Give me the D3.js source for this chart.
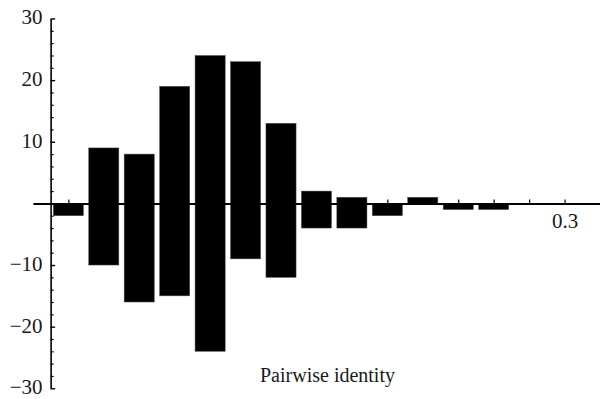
<!DOCTYPE html>
<html>
<head>
<meta charset="utf-8">
<script src="https://cdn.jsdelivr.net/npm/d3@7"></script>
<style>
  html, body { margin: 0; padding: 0; background: #fff; }
  svg { display: block; }
  text { font-family: "Liberation Serif", "Times New Roman", serif; fill: #1a1a1a; }
</style>
</head>
<body>
<svg id="chart" width="600" height="399"></svg>
<script>
// Bin centres (pairwise identity) and the counts above / below the axis
const identity = [0.02, 0.04, 0.06, 0.08, 0.10, 0.12, 0.14, 0.16, 0.18, 0.20, 0.22, 0.24, 0.26];
const upper = [0, 9, 8, 19, 24, 23, 13, 2, 1, 0, 1, 0, 0];
const lower = [-2, -10, -16, -15, -24, -9, -12, -4, -4, -2, 0, -1, -1];
const xTicks = [0.02, 0.04, 0.06, 0.08, 0.10, 0.12, 0.14, 0.16, 0.18, 0.20, 0.22, 0.24, 0.26, 0.28, 0.30];
const xLabelled = [0.3];
const yMajor = [-30, -20, -10, 10, 20, 30];

const svg = d3.select("#chart");

const x = d3.scaleLinear().domain([0, 0.32]).range([32.9, 600]);
const y = d3.scaleLinear().domain([-30, 30]).range([388.3, 18.5]);
const barW = 0.017;
const yAxisAt = 0.01;

// bars: one rectangle above and one below zero for each bin
const bars = svg.append("g");
identity.forEach((v, i) => {
  [upper[i], lower[i]].forEach(val => {
    if (val === 0) return;
    bars.append("rect")
      .attr("x", x(v - barW / 2))
      .attr("width", x(barW) - x(0))
      .attr("y", y(Math.max(val, 0)))
      .attr("height", Math.abs(y(val) - y(0)))
      .attr("fill", "#000")
      .attr("stroke", "#555")
      .attr("stroke-width", 0.5);
  });
});

// horizontal axis through zero, ticks pointing up
const xAxis = d3.axisBottom(x)
  .tickValues(xTicks)
  .tickSizeInner(-4)
  .tickSizeOuter(0)
  .tickPadding(10)
  .tickFormat(d => xLabelled.some(t => Math.abs(t - d) < 1e-9) ? d3.format(".1f")(d) : "");
const gx = svg.append("g").attr("transform", `translate(0,${y(0)})`).call(xAxis);
gx.select(".domain").attr("stroke", "#000").attr("stroke-width", 2);
gx.selectAll(".tick line").attr("stroke", "#000").attr("stroke-width", 1.2);
gx.selectAll(".tick text").style("font-size", "21px").attr("fill", "#1a1a1a")
  .attr("font-family", null);

// vertical axis: minor ticks every 2, major ticks every 10
const minor = d3.range(-30, 31, 2).filter(d => d % 10 !== 0);
const gyMinor = svg.append("g").attr("transform", `translate(${x(yAxisAt)},0)`)
  .call(d3.axisLeft(y).tickValues(minor).tickSizeInner(-3).tickSizeOuter(0).tickFormat(""));
gyMinor.select(".domain").remove();
gyMinor.selectAll(".tick line").attr("stroke", "#000").attr("stroke-width", 1.2);

const gy = svg.append("g").attr("transform", `translate(${x(yAxisAt)},0)`)
  .call(d3.axisLeft(y).tickValues(yMajor).tickSizeInner(-4.5).tickSizeOuter(0).tickPadding(8));
gy.select(".domain").attr("stroke", "#000").attr("stroke-width", 1.6);
gy.selectAll(".tick line").attr("stroke", "#000").attr("stroke-width", 1.4);
gy.selectAll(".tick text").style("font-size", "21px").attr("fill", "#1a1a1a")
  .attr("font-family", null)
  .attr("dy", "0.26em");

// axis title
svg.append("text")
  .attr("x", 327.5)
  .attr("y", 382)
  .attr("text-anchor", "middle")
  .style("font-size", "20px")
  .text("Pairwise identity");
</script>
</body>
</html>
